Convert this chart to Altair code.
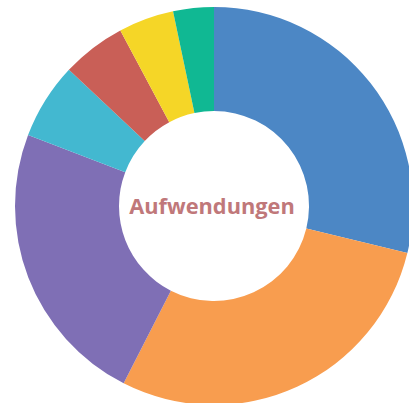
import altair as alt
import pandas as pd

categories = ["A", "B", "C", "D", "E", "F", "G"]
values = [28.8, 28.7, 23.3, 6.2, 5.2, 4.5, 3.3]
colors = ["#4c87c5", "#f89d4f", "#7f6fb5", "#43b8d0", "#c95f57", "#f5d627", "#10b893"]
center_label = "Aufwendungen"

df = pd.DataFrame({"cat": categories, "value": values, "idx": list(range(len(values)))})

arcs = alt.Chart(df).mark_arc(radius=199, radius2=95, stroke=None).encode(
    theta=alt.Theta("value:Q", stack=True),
    color=alt.Color("cat:N", scale=alt.Scale(domain=categories, range=colors), legend=None),
    order=alt.Order("idx:Q"),
    x=alt.value(214),
    y=alt.value(206),
)

text = alt.Chart(pd.DataFrame({"t": [center_label]})).mark_text(
    font="Open Sans", fontWeight="bold", fontSize=21.8, color="#c0787a", baseline="middle", align="center"
).encode(text="t:N", x=alt.value(212), y=alt.value(207))

chart = alt.layer(arcs, text).properties(
    width=409, height=403, padding=0, autosize=alt.AutoSizeParams(type="none")
).configure_view(stroke=None)

chart.save("out.html", embed_options={"renderer": "svg", "actions": False})
